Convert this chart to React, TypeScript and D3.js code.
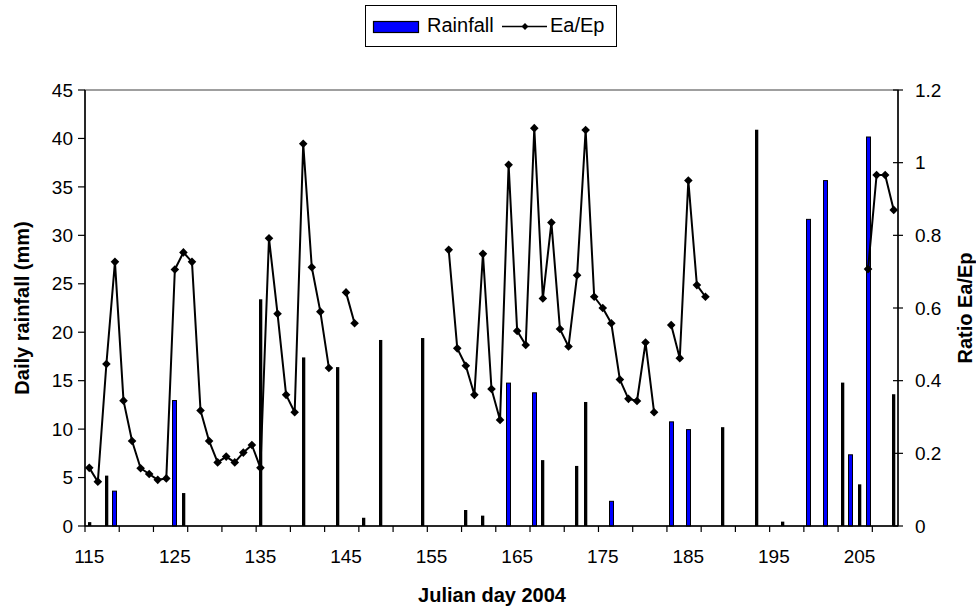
import React from 'react';
import * as d3 from 'd3';

// ---------- data ----------
const firstDay = 115;
const lastDay = 209;
const days = d3.range(firstDay, lastDay + 1);

const xLabelDays = [115, 125, 135, 145, 155, 165, 175, 185, 195, 205];
const leftTicks = [0, 5, 10, 15, 20, 25, 30, 35, 40, 45];
const rightTicks = [0, 0.2, 0.4, 0.6, 0.8, 1, 1.2];

// Rainfall bars drawn with blue fill
const rainBlueDays = [118, 125, 164, 167, 176, 183, 185, 199, 201, 204, 206];
const rainBlueMm = [3.65, 13.0, 14.8, 13.8, 2.6, 10.8, 10.0, 31.7, 35.7, 7.4, 40.2];
// Rainfall bars appearing solid black
const rainDarkDays = [115, 117, 126, 135, 140, 144, 147, 149, 154, 159, 161, 168, 172, 173, 189, 193, 196, 203, 205, 209];
const rainDarkMm = [0.4, 5.2, 3.4, 23.4, 17.4, 16.4, 0.85, 19.2, 19.4, 1.65, 1.07, 6.8, 6.2, 12.8, 10.2, 40.9, 0.45, 14.8, 4.3, 13.6];

// Ea/Ep ratio
const ratioDays = [
  115, 116, 117, 118, 119, 120, 121, 122, 123, 124, 125, 126, 127, 128, 129, 130, 131, 132, 133, 134,
  135, 136, 137, 138, 139, 140, 141, 142, 143,
  145, 146,
  157, 158, 159, 160, 161, 162, 163, 164, 165, 166, 167, 168, 169, 170, 171, 172, 173, 174, 175, 176,
  177, 178, 179, 180, 181,
  183, 184, 185, 186, 187,
  206, 207, 208, 209,
];
const ratioValues = [
  0.160, 0.122, 0.446, 0.727, 0.345, 0.234, 0.159, 0.143, 0.127, 0.131, 0.706, 0.753, 0.727, 0.318, 0.234, 0.175, 0.191, 0.175, 0.202, 0.223,
  0.160, 0.792, 0.584, 0.361, 0.313, 1.052, 0.712, 0.590, 0.435,
  0.643, 0.558,
  0.760, 0.489, 0.441, 0.361, 0.749, 0.377, 0.292, 0.994, 0.537, 0.498, 1.095, 0.626, 0.835, 0.542, 0.494, 0.690, 1.090, 0.631, 0.600, 0.558,
  0.403, 0.350, 0.344, 0.505, 0.313,
  0.553, 0.462, 0.951, 0.663, 0.631,
  0.707, 0.966, 0.966, 0.870,
];

// ---------- layout ----------
const W = 976;
const H = 610;
const PL = 85;
const PR = 898;
const PT = 90;
const PB = 526;
const FONT = '"Liberation Sans", Arial, sans-serif';

export default function App() {
  const x = d3.scaleBand<number>().domain(days).range([PL, PR]).padding(0);
  const cx = (d: number) => (x(d) as number) + x.bandwidth() / 2;
  const yL = d3.scaleLinear().domain([0, 45]).range([PB, PT]);
  const yR = d3.scaleLinear().domain([0, 1.2]).range([PB, PT]);

  const ratioMap = new Map<number, number>();
  ratioDays.forEach((d, i) => ratioMap.set(d, ratioValues[i]));
  const lineData = days.map((d) => ({ day: d, v: ratioMap.has(d) ? (ratioMap.get(d) as number) : null }));
  const line = d3
    .line<{ day: number; v: number | null }>()
    .defined((p) => p.v != null)
    .x((p) => cx(p.day))
    .y((p) => yR(p.v as number));

  const diamond = 'M0,-4.3L4.3,0L0,4.3L-4.3,0Z';
  const tickEvery4 = days.filter((d, i) => i % 4 === 0);

  return (
    <svg
      width={W}
      height={H}
      style={{ position: 'absolute', left: 0, top: 0, background: '#fff' }}
      fontFamily={FONT}
    >
      <rect x={0} y={0} width={W} height={H} fill="#fff" />
      {/* plot area border */}
      <rect x={PL} y={PT} width={PR - PL} height={PB - PT} fill="none" stroke="#808080" strokeWidth={1.5} />

      {/* dark rainfall bars */}
      {rainDarkDays.map((d, i) => {
        const c = cx(d);
        const left = Math.round(c - 1.6);
        return (
          <rect key={'k' + d} x={left} y={yL(rainDarkMm[i])} width={3.3} height={PB - yL(rainDarkMm[i])} fill="#000" />
        );
      })}
      {/* blue rainfall bars */}
      {rainBlueDays.map((d, i) => {
        const c = cx(d);
        const left = Math.round(c - 2.5);
        return (
          <rect
            key={'b' + d}
            x={left + 0.5}
            y={yL(rainBlueMm[i]) + 0.5}
            width={4}
            height={PB - yL(rainBlueMm[i]) - 0.5}
            fill="#0000ff"
            stroke="#000"
            strokeWidth={1}
          />
        );
      })}

      {/* ratio line */}
      <path d={line(lineData) || ''} fill="none" stroke="#000" strokeWidth={2} strokeLinejoin="round" />
      {ratioDays.map((d, i) => (
        <path key={'m' + d} d={diamond} transform={`translate(${cx(d)},${yR(ratioValues[i])})`} fill="#000" />
      ))}

      {/* left axis */}
      <line x1={PL} y1={PT} x2={PL} y2={PB} stroke="#000" strokeWidth={1.5} />
      {leftTicks.map((t) => (
        <g key={'l' + t}>
          <line x1={PL - 7} x2={PL} y1={yL(t)} y2={yL(t)} stroke="#000" strokeWidth={1.2} />
          <text x={PL - 12} y={yL(t)} dy="0.35em" textAnchor="end" fontSize={19} fill="#000">
            {t}
          </text>
        </g>
      ))}

      {/* right axis */}
      <line x1={PR} y1={PT} x2={PR} y2={PB} stroke="#000" strokeWidth={1.5} />
      {rightTicks.map((t) => (
        <g key={'r' + t}>
          <line x1={PR - 5} x2={PR + 5} y1={yR(t)} y2={yR(t)} stroke="#000" strokeWidth={1.2} />
          <text x={PR + 17} y={yR(t)} dy="0.35em" textAnchor="start" fontSize={19} fill="#000">
            {d3.format('~g')(t)}
          </text>
        </g>
      ))}

      {/* bottom axis */}
      <line x1={PL} y1={PB} x2={PR} y2={PB} stroke="#000" strokeWidth={1.5} />
      {tickEvery4.map((d) => (
        <line key={'t' + d} x1={x(d) as number} x2={x(d) as number} y1={PB} y2={PB + 6} stroke="#000" strokeWidth={1.2} />
      ))}
      {xLabelDays.map((d) => (
        <text key={'x' + d} x={cx(d)} y={563} textAnchor="middle" fontSize={19} fill="#000">
          {d}
        </text>
      ))}

      {/* axis titles */}
      <text x={492} y={602} textAnchor="middle" fontSize={20} fontWeight="bold" fill="#000">
        Julian day 2004
      </text>
      <text
        transform={`translate(29,${(PT + PB) / 2}) rotate(-90)`}
        textAnchor="middle"
        fontSize={20}
        fontWeight="bold"
        fill="#000"
      >
        Daily rainfall (mm)
      </text>
      <text
        transform={`translate(972,${(PT + PB) / 2}) rotate(-90)`}
        textAnchor="middle"
        fontSize={20}
        fontWeight="bold"
        fill="#000"
      >
        Ratio Ea/Ep
      </text>

      {/* legend */}
      <rect x={365.5} y={5.5} width={251} height={41} fill="#fff" stroke="#000" strokeWidth={1} />
      <rect x={373.5} y={21.5} width={45} height={11} fill="#0000ff" stroke="#000" strokeWidth={1.2} />
      <text x={427} y={32} fontSize={20} fill="#000">
        Rainfall
      </text>
      <line x1={502} x2={547} y1={26.5} y2={26.5} stroke="#000" strokeWidth={1.5} />
      <path d={diamond} transform="translate(525,26.5) scale(0.8)" fill="#000" />
      <text x={550} y={32} fontSize={20} fill="#000">
        Ea/Ep
      </text>
    </svg>
  );
}
